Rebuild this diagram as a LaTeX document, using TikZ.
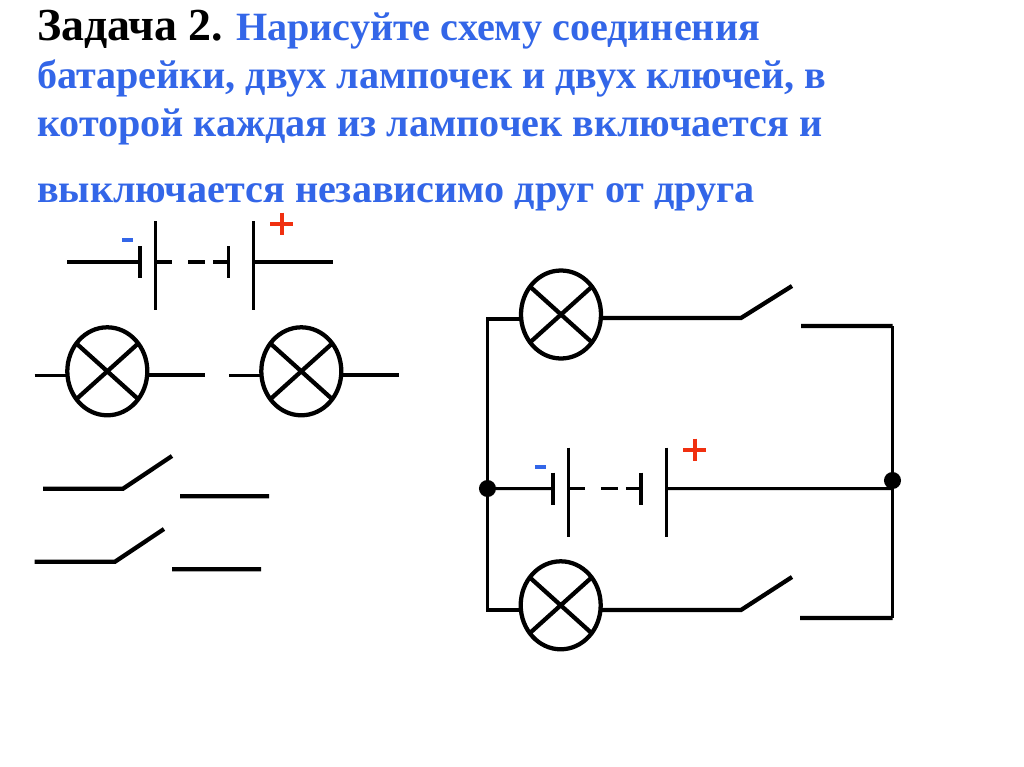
\documentclass[tikz,border=0pt]{standalone}
\usepackage{fontspec}
\setmainfont{Liberation Serif}
\usetikzlibrary{shapes.geometric}
\definecolor{taskblue}{HTML}{3366E8}
\definecolor{plusred}{HTML}{F03010}
\tikzset{
  x=0.75pt,y=-0.75pt,
  midw/.style={line width=2.3pt},
  thickw/.style={line width=3.2pt},
  plate/.style={line width=2.8pt},
  lamp/.style={draw,ellipse,line width=3.2pt,minimum width=60pt,minimum height=66pt,inner sep=0pt,outer sep=0pt},
  cross/.style={line width=3.2pt},
  dotj/.style={circle,fill=black,minimum size=12.8pt,inner sep=0pt,outer sep=0pt},
  txt/.style={anchor=base west,inner sep=0pt,outer sep=0pt,font=\bfseries\fontsize{30.1}{30}\selectfont,text=taskblue},
  sign/.style={inner sep=0pt,outer sep=0pt},
  minusmark/.style={sign,fill=taskblue,minimum width=8.6pt,minimum height=2.3pt},
  plusmark/.style={plusred,line width=3pt},
}
\newcommand{\lampx}[1]{\draw[cross] (#1.138)--(#1.318) (#1.42)--(#1.222);}
\newcommand{\batt}[3]{%
  \coordinate (#1a) at (#2+140,#3);
  \coordinate (#1b) at (#2+155.5,#3);
  \coordinate (#1c) at (#2+172,#3);
  \coordinate (#1d) at (#2+188,#3);
  \coordinate (#1e) at (#2+205,#3);
  \coordinate (#1f) at (#2+213,#3);
  \coordinate (#1g) at (#2+229,#3);
  \coordinate (#1h) at (#2+253.5,#3);
  \draw[plate] (#2+140,#3-16)--(#2+140,#3+16) (#2+228.5,#3-16)--(#2+228.5,#3+16);
  \draw[midw] (#2+155.5,#3-41)--(#2+155.5,#3+48) (#2+253.5,#3-41)--(#2+253.5,#3+48);
  \draw[midw] (#1b)--(#1c) (#1d)--(#1e) (#1f)--(#1g);
}
\begin{document}
\begin{tikzpicture}
\useasboundingbox (0,0) rectangle (1024,767);
\fill[white] (0,0) rectangle (1024,767);
% text
\node[txt,text=black,font=\bfseries\fontsize{34.4}{34}\selectfont] (t0) at (37,40.5) {Задача 2.};
\node[txt] (t1) at (236,40.5) {Нарисуйте схему соединения};
\node[txt] (t2) at (37,89) {батарейки, двух лампочек и двух ключей, в};
\node[txt] (t3) at (37,136.7) {которой каждая из лампочек включается и};
\node[txt] (t4) at (37,202) {выключается независимо друг от друга};
% top-left battery
\batt{p}{0}{262}
\coordinate (pl) at (67,262);
\coordinate (pr) at (333,262);
\draw[midw] (pl)--(pa) (ph)--(pr);
\node[minusmark] (pm) at (127.5,240) {};
\draw[plusmark] (270,224)--(293,224) (281.5,212.5)--(281.5,235);
% lamps left
\node[lamp] (la) at (107.3,371.3) {};
\node[lamp] (lb) at (301.3,371.3) {};
\lampx{la}\lampx{lb}
\coordinate (a1) at (34.5,375.3);
\coordinate (a2) at (204.5,375.3);
\coordinate (b1) at (229,375.3);
\coordinate (b2) at (399,375.3);
\draw[midw] (a1)--(la.185.5 |- a1) (b1)--(lb.185.5 |- b1);
\draw[thickw] (la.354.5 |- a2)--(a2) (lb.354.5 |- b2)--(b2);
% switches left
\coordinate (s1a) at (43,488.7); \coordinate (s1b) at (123,488.7); \coordinate (s1c) at (172,456);
\coordinate (s1d) at (180,496.3); \coordinate (s1e) at (269,496.3);
\coordinate (s2a) at (34.5,561.7); \coordinate (s2b) at (115,561.7); \coordinate (s2c) at (164,529);
\coordinate (s2d) at (172,569.3); \coordinate (s2e) at (261,569.3);
\draw[thickw] (s1a)--(s1b)--(s1c) (s1d)--(s1e) (s2a)--(s2b)--(s2c) (s2d)--(s2e);
% right circuit
\node[lamp] (lt) at (561,314.5) {};
\node[lamp] (lo) at (560.7,605.3) {};
\lampx{lt}\lampx{lo}
\node[dotj] (jl) at (487.5,488.5) {};
\node[dotj] (jr) at (892.5,480.5) {};
\batt{q}{412.8}{488.7}
\coordinate (tl) at (487.5,319);
\coordinate (ol) at (487.5,610);
\coordinate (tsa) at (741,318); \coordinate (tsb) at (792,286);
\coordinate (tsc) at (801,326); \coordinate (tsd) at (892.5,326);
\coordinate (osa) at (741,610); \coordinate (osb) at (792,577);
\coordinate (osc) at (800,618); \coordinate (osd) at (892.5,618);
\draw[midw,line join=miter] (lt.185.5 |- tl)--(tl)--(jl) (jl)--(ol)--(lo.185.5 |- ol);
\draw[midw] (tsd)--(jr) (jr)--(osd);
\draw[thickw] (lt.354.5 |- tsa)--(tsa)--(tsb) (tsc)--(tsd);
\draw[thickw] (lo.354.5 |- osa)--(osa)--(osb) (osc)--(osd);
\draw[midw] (jl)--(qa) (qh)--(jr.center |- qh);
\node[minusmark] (qm) at (540.5,467) {};
\draw[plusmark] (683,450)--(706,450) (694.5,438.5)--(694.5,461);
\end{tikzpicture}
\end{document}
